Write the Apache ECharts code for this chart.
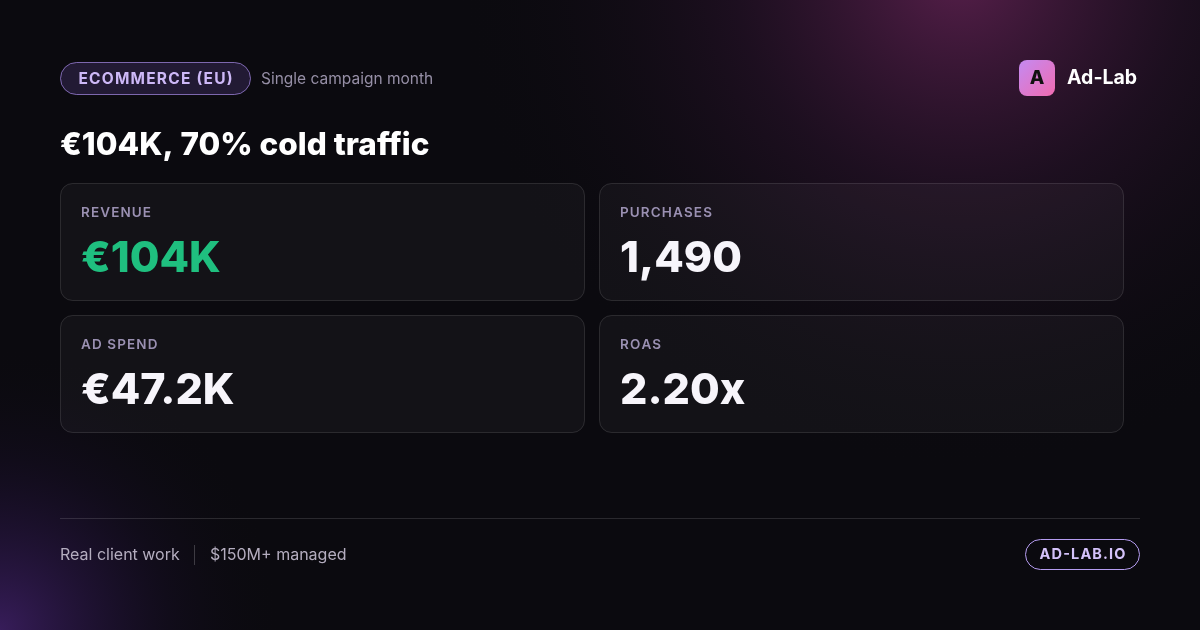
<!DOCTYPE html>
<html><head><meta charset="utf-8">
<script src="https://cdn.jsdelivr.net/npm/echarts@6/dist/echarts.min.js"></script>
<style>html,body{margin:0;padding:0;background:#0b0a0f}#c{width:1200px;height:630px}</style>
</head><body><div id="c"></div>
<script>
const tagText = 'ECOMMERCE (EU)';
const subText = 'Single campaign month';
const brand = 'Ad-Lab';
const headline = '€104K, 70% cold traffic';
const kpiLabels = ['REVENUE', 'PURCHASES', 'AD SPEND', 'ROAS'];
const kpiValues = ['€104K', '1,490', '€47.2K', '2.20x'];
const kpiAccent = [true, false, false, false];
const footerItems = ['Real client work', '$150M+ managed'];
const site = 'AD-LAB.IO';

const F = 'Inter, "Noto Sans", sans-serif';
const sp = s => s.split('').join('\u200A');
const chart = echarts.init(document.getElementById('c'), null, {renderer: 'canvas'});
const g = [];
g.push({type:'rect', shape:{x:0,y:0,width:1200,height:630}, style:{fill:'#0b0a0f'}, silent:true});
g.push({type:'rect', shape:{x:0,y:0,width:1200,height:630}, silent:true,
  style:{fill:new echarts.graphic.RadialGradient(0.8,-0.05,0.8,[{offset:0,color:'rgba(120,40,100,0.7)'},{offset:0.45,color:'rgba(65,25,65,0.33)'},{offset:1,color:'rgba(11,10,15,0)'}])}});
g.push({type:'rect', shape:{x:0,y:0,width:1200,height:630}, silent:true,
  style:{fill:new echarts.graphic.RadialGradient(0,1,0.45,[{offset:0,color:'rgba(70,35,115,0.75)'},{offset:0.6,color:'rgba(40,20,70,0.2)'},{offset:1,color:'rgba(11,10,15,0)'}])}});
g.push({type:'rect', shape:{x:60.5,y:62.5,width:190,height:32,r:16}, style:{fill:'rgba(140,100,220,0.18)',stroke:'rgba(170,140,235,0.7)',lineWidth:1}});
g.push({type:'text', x:155.5, y:79, style:{text:sp(tagText), font:'700 15.5px '+F, fill:'#cdb8f7', align:'center', verticalAlign:'middle'}});
g.push({type:'text', x:261, y:79, style:{text:subText, font:'400 15.5px '+F, fill:'#968fa6', verticalAlign:'middle'}});
g.push({type:'rect', shape:{x:1019,y:60,width:36,height:36,r:8}, style:{fill:new echarts.graphic.LinearGradient(0,0,1,1,[{offset:0,color:'#c48af2'},{offset:1,color:'#f06bb0'}])}});
g.push({type:'text', x:1037, y:78.5, style:{text:'A', font:'800 19px '+F, fill:'#111', align:'center', verticalAlign:'middle'}});
g.push({type:'text', x:1067, y:78, style:{text:brand, font:'700 19.5px '+F, fill:'#ffffff', verticalAlign:'middle'}});
g.push({type:'text', x:60, y:146, style:{text:headline, font:'800 31.5px '+F, fill:'#ffffff', verticalAlign:'middle'}});
kpiLabels.forEach((lab,i)=>{
  const x = 60.5 + (i%2)*539, y = 183.5 + Math.floor(i/2)*132;
  g.push({type:'rect', shape:{x:x,y:y,width:524,height:117,r:12}, style:{fill:'rgba(255,255,255,0.035)',stroke:'rgba(255,255,255,0.12)',lineWidth:1}});
  g.push({type:'text', x:x+20.5, y:y+29.5, style:{text:sp(lab), font:'600 13.5px '+F, fill:'#9a90b2', verticalAlign:'middle'}});
  g.push({type:'text', x:x+20.5, y:y+76, style:{text:kpiValues[i], font:'800 43px '+F, fill:kpiAccent[i]?'#1fbf7f':'#f7f5fb', verticalAlign:'middle'}});
});
g.push({type:'line', shape:{x1:60,y1:518.5,x2:1140,y2:518.5}, style:{stroke:'rgba(255,255,255,0.13)',lineWidth:1}});
g.push({type:'text', x:60, y:555, style:{text:footerItems[0], font:'400 16px '+F, fill:'#b4adbf', verticalAlign:'middle'}});
g.push({type:'line', shape:{x1:194.5,y1:545,x2:194.5,y2:565}, style:{stroke:'rgba(255,255,255,0.2)',lineWidth:1}});
g.push({type:'text', x:210, y:555, style:{text:footerItems[1], font:'400 16px '+F, fill:'#b4adbf', verticalAlign:'middle'}});
g.push({type:'rect', shape:{x:1025.5,y:539.5,width:114,height:30,r:15}, style:{fill:'rgba(0,0,0,0)',stroke:'#b59cf0',lineWidth:1}});
g.push({type:'text', x:1082.5, y:555, style:{text:sp(site), font:'700 14.5px '+F, fill:'#d4c2fa', align:'center', verticalAlign:'middle'}});
chart.setOption({animation:false, graphic:{elements:g}});
</script></body></html>
